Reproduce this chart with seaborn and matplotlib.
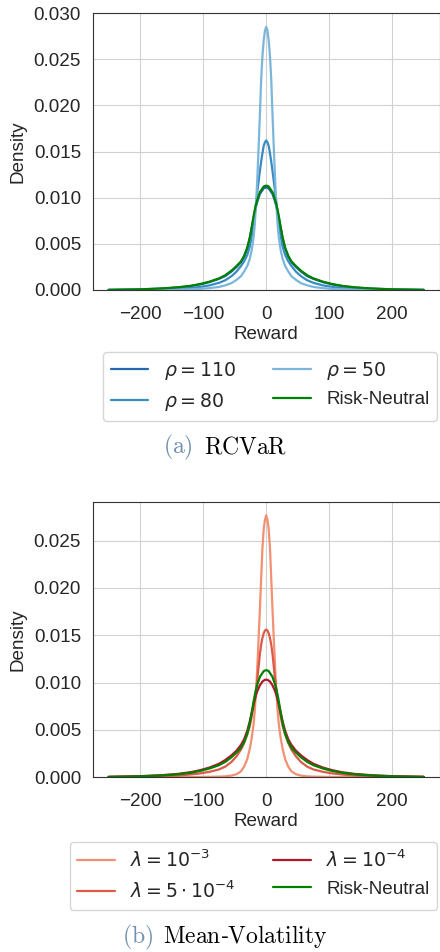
import pandas as pd
import matplotlib.pyplot as plt
import seaborn as sns
import numpy as np

# valores (densidade x recompensa)
reward = [-250, -200, -165, -140, -120, -105, -90, -75, -65, -55, -47, -40, -35, -30, -26, -23, -20, -18,
          -16, -14, -12, -10, -8, -6, -4, -2, 0, 2, 4, 6, 8, 10, 12, 14, 16, 18, 20, 23, 26, 30, 35, 40,
          47, 55, 65, 75, 90, 105, 120, 140, 165, 200, 250]

# painel (a) RCVaR
rho_110 = [0.00001, 0.00006, 0.00015, 0.00027, 0.00042, 0.0006, 0.00085, 0.0012, 0.0015, 0.0020, 0.0025,
           0.0030, 0.0036, 0.0045, 0.0056, 0.0067, 0.0078, 0.0085, 0.0091, 0.0096, 0.0100, 0.0104, 0.0106,
           0.0108, 0.0110, 0.01107, 0.0111, 0.01107, 0.0110, 0.0108, 0.0106, 0.0104, 0.0100, 0.0096, 0.0091,
           0.0085, 0.0078, 0.0067, 0.0056, 0.0045, 0.0036, 0.0030, 0.0025, 0.0020, 0.0015, 0.0012, 0.00085,
           0.0006, 0.00042, 0.00027, 0.00015, 0.00006, 0.00001]
rho_80 = [0.0, 0.00003, 0.00007, 0.00013, 0.00022, 0.00033, 0.0005, 0.00077, 0.00105, 0.0015, 0.0020,
          0.0026, 0.0031, 0.0038, 0.0047, 0.0058, 0.0072, 0.0083, 0.0095, 0.0107, 0.0118, 0.0129, 0.0139,
          0.0148, 0.0156, 0.0160, 0.0162, 0.0160, 0.0156, 0.0148, 0.0139, 0.0129, 0.0118, 0.0107, 0.0095,
          0.0083, 0.0072, 0.0058, 0.0047, 0.0038, 0.0031, 0.0026, 0.0020, 0.0015, 0.00105, 0.00077, 0.0005,
          0.00033, 0.00022, 0.00013, 0.00007, 0.00003, 0.0]
rho_50 = [0.0, 0.00001, 0.00002, 0.00004, 0.00007, 0.00012, 0.0002, 0.00033, 0.0005, 0.00075, 0.0011,
          0.0015, 0.0020, 0.0026, 0.0034, 0.0043, 0.0057, 0.0072, 0.0094, 0.0122, 0.0155, 0.0190, 0.0228,
          0.0253, 0.0270, 0.0281, 0.0285, 0.0281, 0.0270, 0.0253, 0.0228, 0.0190, 0.0155, 0.0122, 0.0094,
          0.0072, 0.0057, 0.0043, 0.0034, 0.0026, 0.0020, 0.0015, 0.0011, 0.00075, 0.0005, 0.00033, 0.0002,
          0.00012, 0.00007, 0.00004, 0.00002, 0.00001, 0.0]
neutral = [0.00001, 0.00007, 0.00017, 0.00029, 0.00045, 0.00064, 0.0009, 0.00125, 0.0016, 0.0021, 0.0026,
           0.0031, 0.0037, 0.0046, 0.0057, 0.0068, 0.0080, 0.0087, 0.0093, 0.0098, 0.0102, 0.0106, 0.0108,
           0.0110, 0.0112, 0.01127, 0.0113, 0.01127, 0.0112, 0.0110, 0.0108, 0.0106, 0.0102, 0.0098, 0.0093,
           0.0087, 0.0080, 0.0068, 0.0057, 0.0046, 0.0037, 0.0031, 0.0026, 0.0021, 0.0016, 0.00125, 0.0009,
           0.00064, 0.00045, 0.00029, 0.00017, 0.00007, 0.00001]

# painel (b) Mean-Volatility
lam_1e3 = [0.0, 0.0, 0.0, 0.0, 0.0, 0.00001, 0.00002, 0.00004, 0.00007, 0.00015, 0.0003,
           0.0006, 0.0011, 0.0019, 0.0030, 0.0041, 0.0056, 0.0071, 0.0092, 0.0118, 0.0147, 0.0177, 0.0210,
           0.0242, 0.0262, 0.0272, 0.0277, 0.0272, 0.0262, 0.0242, 0.0210, 0.0177, 0.0147, 0.0118, 0.0092,
           0.0071, 0.0056, 0.0041, 0.0030, 0.0019, 0.0011, 0.0006, 0.0003, 0.00015, 0.00007, 0.00004, 0.00002,
           0.00001, 0.0, 0.0, 0.0, 0.0, 0.0]
lam_5e4 = [0.00001, 0.00004, 0.00009, 0.00016, 0.00027, 0.00038, 0.00055, 0.0008, 0.0011, 0.0016, 0.0022,
           0.0029, 0.0036, 0.0045, 0.0054, 0.0064, 0.0075, 0.0083, 0.0093, 0.0104, 0.0117, 0.0130, 0.0140,
           0.0147, 0.0152, 0.0155, 0.0156, 0.0155, 0.0152, 0.0147, 0.0140, 0.0130, 0.0117, 0.0104, 0.0093,
           0.0083, 0.0075, 0.0064, 0.0054, 0.0045, 0.0036, 0.0029, 0.0022, 0.0016, 0.0011, 0.0008, 0.00055,
           0.00038, 0.00027, 0.00016, 0.00009, 0.00004, 0.00001]
lam_1e4 = [0.00002, 0.00009, 0.0002, 0.00033, 0.00051, 0.00072, 0.0010, 0.0014, 0.0018, 0.0023, 0.0028,
           0.0034, 0.0040, 0.0049, 0.0059, 0.0068, 0.0077, 0.0082, 0.0087, 0.0091, 0.0094, 0.0097, 0.0099,
           0.0101, 0.0102, 0.01028, 0.0103, 0.01028, 0.0102, 0.0101, 0.0099, 0.0097, 0.0094, 0.0091, 0.0087,
           0.0082, 0.0077, 0.0068, 0.0059, 0.0049, 0.0040, 0.0034, 0.0028, 0.0023, 0.0018, 0.0014, 0.0010,
           0.00072, 0.00051, 0.00033, 0.0002, 0.00009, 0.00002]

labels_a = [r"$\rho = 110$", r"$\rho = 80$", r"$\rho = 50$", "Risk-Neutral"]
labels_b = [r"$\lambda = 10^{-3}$", r"$\lambda = 5 \cdot 10^{-4}$", r"$\lambda = 10^{-4}$", "Risk-Neutral"]

cores_a = ["#2369ad", "#3a8bc2", "#7ab6db", "green"]
cores_b = ["#f29072", "#dc5a48", "#b2182b", "green"]

sns.set_style("whitegrid", {"axes.edgecolor": "0.2", "grid.color": "0.82"})
plt.rcParams["font.family"] = ["Liberation Sans", "DejaVu Sans"]
plt.rcParams["font.size"] = 13.6

fig = plt.figure(figsize=(4.4, 9.52), dpi=100)
ax1 = fig.add_axes([0.211, 0.6954, 0.788, 0.2909])
ax2 = fig.add_axes([0.211, 0.1838, 0.788, 0.2889])

def painel(ax, series, labels, cores, ytop):
    for vals, lab, c in zip(series, labels, cores):
        sns.lineplot(x=reward, y=vals, color=c, label=lab, linewidth=1.6, ax=ax)
    ax.get_legend().remove()
    ax.set_xlim(-275, 275)
    ax.set_ylim(0, ytop)
    ax.set_xticks([-200, -100, 0, 100, 200])
    ax.tick_params(axis="x", labelsize=13.6, pad=8)
    ax.tick_params(axis="y", labelsize=13.6, pad=5)
    ax.set_xlabel("Reward", fontsize=13.6, labelpad=2)
    ax.set_ylabel("Density", fontsize=13.6, labelpad=5)

painel(ax1, [rho_110, rho_80, rho_50, neutral], labels_a, cores_a, 0.0300)
ax1.set_yticks([0, 0.005, 0.010, 0.015, 0.020, 0.025, 0.030])
ax1.set_yticklabels(["0.000", "0.005", "0.010", "0.015", "0.020", "0.025", "0.030"])

painel(ax2, [lam_1e3, lam_5e4, lam_1e4, neutral], labels_b, cores_b, 0.0291)
ax2.set_yticks([0, 0.005, 0.010, 0.015, 0.020, 0.025])
ax2.set_yticklabels(["0.000", "0.005", "0.010", "0.015", "0.020", "0.025"])

h, l = ax1.get_legend_handles_labels()
fig.legend(h, l, ncol=2, loc="upper right", bbox_to_anchor=(437 / 440, 1 - 352 / 952),
           borderaxespad=0, fontsize=13.6, frameon=True)
h, l = ax2.get_legend_handles_labels()
fig.legend(h, l, ncol=2, loc="upper right", bbox_to_anchor=(437 / 440, 1 - 842 / 952),
           borderaxespad=0, fontsize=13.6, frameon=True)

# legendas estilo LaTeX
fig.text(193 / 440, 1 - 447 / 952, r"$\mathrm{(a)}$", math_fontfamily="cm", fontsize=17,
         color="#7090b0", ha="right", va="center")
fig.text(204 / 440, 1 - 447 / 952, r"$\mathrm{RCVaR}$", math_fontfamily="cm", fontsize=17,
         color="black", ha="left", va="center")
fig.text(153 / 440, 1 - 937 / 952, r"$\mathrm{(b)}$", math_fontfamily="cm", fontsize=17,
         color="#7090b0", ha="right", va="center")
fig.text(163 / 440, 1 - 937 / 952, r"$\mathrm{Mean}$-$\mathrm{Volatility}$", math_fontfamily="cm", fontsize=17,
         color="black", ha="left", va="center")

fig.savefig("out.png", dpi=100)
